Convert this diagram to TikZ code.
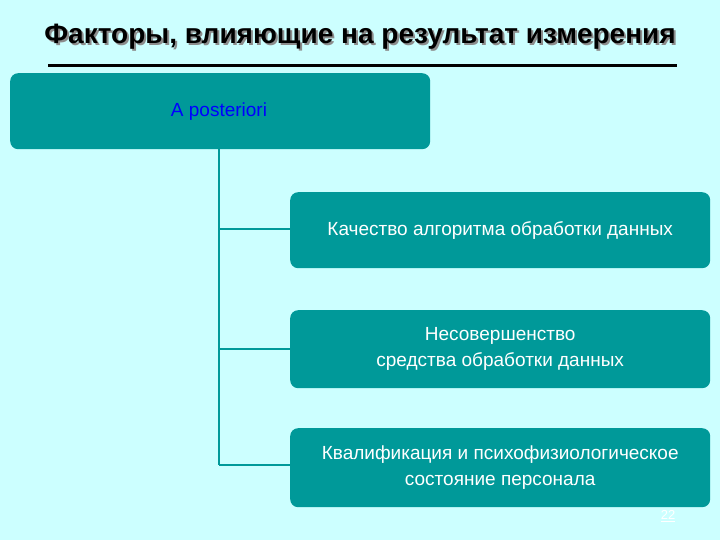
\documentclass[tikz,border=0pt]{standalone}
\usepackage{fontspec}
\setmainfont{Liberation Sans}
\definecolor{bg}{HTML}{CCFFFF}
\definecolor{boxc}{HTML}{009999}
\tikzset{
  fbox/.style={fill=boxc, draw=none, rounded corners=8pt, align=center, text=white, font=\fontsize{19}{26}\selectfont, inner sep=0pt},
  conn/.style={draw=boxc, line width=1.5pt}
}
\begin{document}
\begin{tikzpicture}[x=1pt,y=-1pt]
\fill[bg] (0,0) rectangle (720,540);
\useasboundingbox (0,0) rectangle (720,540);
\node[font=\bfseries\fontsize{28}{32}\selectfont, text=black!45] at (362,39) {Факторы, влияющие на результат измерения};
\node (title) [font=\bfseries\fontsize{28}{32}\selectfont] at (360,37) {Факторы, влияющие на результат измерения};
\draw[line width=3pt] (48,66) -- (677,66);
\node (top) [fbox, minimum width=420pt, minimum height=76pt, anchor=north west] at (10,73) {};
\node (tl) [text=blue, font=\fontsize{19}{24}\selectfont] at (219,112) {A posteriori};
\node (b1) [fbox, minimum width=420pt, minimum height=76pt, anchor=north west] at (290,192) {Качество алгоритма обработки данных};
\node (b2) [fbox, minimum width=420pt, minimum height=78pt, anchor=north west] at (290,310) {Несовершенство\\средства обработки данных};
\node (b3) [fbox, minimum width=420pt, minimum height=79pt, anchor=north west] at (290,428) {Квалификация и психофизиологическое\\состояние персонала};
\coordinate (v0) at (219,149);
\coordinate (v1) at (219,229);
\coordinate (v2) at (219,349);
\coordinate (v3) at (219,465);
\draw[conn] (v0) -- (v3);
\draw[conn] (v1) -- (b1.west |- v1);
\draw[conn] (v2) -- (b2.west |- v2);
\draw[conn] (v3) -- (b3.west |- v3);
\node (pg) [text=white, font=\fontsize{13}{14}\selectfont] at (668,516) {\underline{22}};
\end{tikzpicture}
\end{document}
